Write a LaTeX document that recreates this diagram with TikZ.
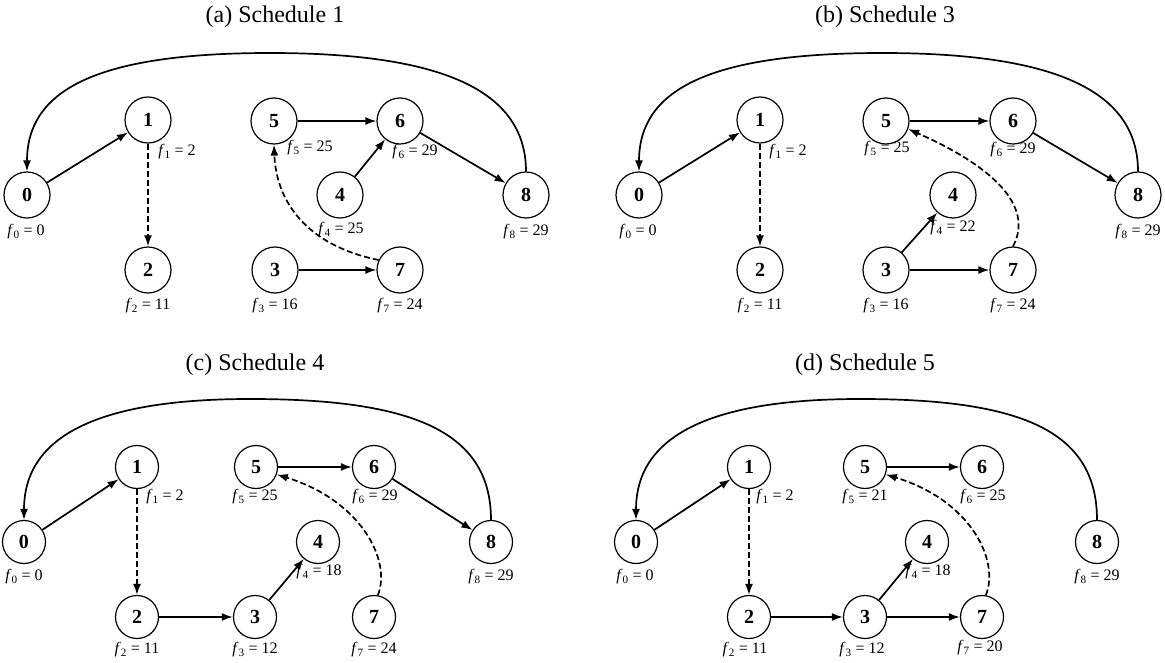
\documentclass[tikz,border=0pt]{standalone}
\usepackage{fontspec}
\setmainfont{Liberation Serif}
\usetikzlibrary{arrows.meta}
\newcommand{\flab}[2]{\textit{f}\textsubscript{#1} = #2}
\begin{document}
\begin{tikzpicture}[x=1pt,y=-1pt,
 vtx/.style={circle, draw, line width=1.2pt, minimum size=46pt, inner sep=0pt, font=\fontsize{20}{20}\selectfont\bfseries},
 vtxs/.style={vtx, minimum size=43pt},
 lbl/.style={inner sep=0pt, font=\fontsize{16}{17}\selectfont},
 ttl/.style={inner sep=0pt, font=\fontsize{24}{28}\selectfont},
 edge/.style={line width=1.7pt, -{Latex[length=11pt,width=8pt]}},
 dedge/.style={edge, dash pattern=on 6pt off 3pt},
 arc/.style={line width=1.7pt, -{Latex[length=11pt,width=8pt]}}]
\path[use as bounding box] (0,0) rectangle (1165,663);

% ---------- (a) ----------
\node[ttl] (ta) at (275,17) {(a) Schedule 1};
\node[vtx] (a0) at (27,195) {0};
\node[vtx] (a1) at (148,120) {1};
\node[vtx] (a2) at (148,270) {2};
\node[vtx] (a3) at (275,270) {3};
\node[vtx] (a4) at (340,195) {4};
\node[vtx] (a5) at (274,121) {5};
\node[vtx] (a6) at (400,121) {6};
\node[vtx] (a7) at (400,270) {7};
\node[vtx] (a8) at (526,195) {8};
\node[lbl] (la0) at (26,232) {\flab{0}{0}};
\node[lbl] (la1) at (177,152) {\flab{1}{2}};
\node[lbl] (la2) at (148,306) {\flab{2}{11}};
\node[lbl] (la3) at (275,306) {\flab{3}{16}};
\node[lbl] (la4) at (341,230) {\flab{4}{25}};
\node[lbl] (la5) at (310,148) {\flab{5}{25}};
\node[lbl] (la6) at (415,152) {\flab{6}{29}};
\node[lbl] (la7) at (400,306) {\flab{7}{24}};
\node[lbl] (la8) at (526,232) {\flab{8}{29}};
\draw[edge] (a0) -- (a1);
\draw[dedge] (a1) -- (a2);
\draw[edge] (a5) -- (a6);
\draw[edge] (a6) -- (a8);
\draw[edge] (a4) -- (a6);
\draw[edge] (a3) -- (a7);
\draw[dedge] (a7.155) .. controls (305,245) and (276,200) .. (a5.south);
\draw[arc] (a8.north) .. controls (526,85) and (430,53) .. (270,53) .. controls (92,53) and (27,92) .. (a0.north);

% ---------- (b) ----------
\node[ttl] (tb) at (885,17) {(b) Schedule 3};
\node[vtx] (b0) at (639,195) {0};
\node[vtx] (b1) at (760,120) {1};
\node[vtx] (b2) at (760,270) {2};
\node[vtx] (b3) at (886,270) {3};
\node[vtx] (b4) at (953,195) {4};
\node[vtx] (b5) at (886,121) {5};
\node[vtx] (b6) at (1013,121) {6};
\node[vtx] (b7) at (1013,270) {7};
\node[vtx] (b8) at (1138,195) {8};
\node[lbl] (lb0) at (638,232) {\flab{0}{0}};
\node[lbl] (lb1) at (788,152) {\flab{1}{2}};
\node[lbl] (lb2) at (760,306) {\flab{2}{11}};
\node[lbl] (lb3) at (886,306) {\flab{3}{16}};
\node[lbl] (lb4) at (953,228) {\flab{4}{22}};
\node[lbl] (lb5) at (887,149) {\flab{5}{25}};
\node[lbl] (lb6) at (1013,150) {\flab{6}{29}};
\node[lbl] (lb7) at (1013,306) {\flab{7}{24}};
\node[lbl] (lb8) at (1138,232) {\flab{8}{29}};
\draw[edge] (b0) -- (b1);
\draw[dedge] (b1) -- (b2);
\draw[edge] (b5) -- (b6);
\draw[edge] (b6) -- (b8);
\draw[edge] (b3) -- (b4);
\draw[edge] (b3) -- (b7);
\draw[dedge] (b7.north) .. controls (1035,205) and (990,165) .. (b5.-20);
\draw[arc] (b8.north) .. controls (1138,85) and (1042,53) .. (882,53) .. controls (704,53) and (639,92) .. (b0.north);

% ---------- (c) ----------
\node[ttl] (tc) at (255,365) {(c) Schedule 4};
\node[vtxs] (c0) at (24,542) {0};
\node[vtxs] (c1) at (137,467) {1};
\node[vtxs] (c2) at (137,617) {2};
\node[vtxs] (c3) at (255,617) {3};
\node[vtxs] (c4) at (318,542) {4};
\node[vtxs] (c5) at (256,467) {5};
\node[vtxs] (c6) at (374,467) {6};
\node[vtxs] (c7) at (374,617) {7};
\node[vtxs] (c8) at (491,542) {8};
\node[lbl] (lc0) at (24,577) {\flab{0}{0}};
\node[lbl] (lc1) at (165,497) {\flab{1}{2}};
\node[lbl] (lc2) at (137,650) {\flab{2}{11}};
\node[lbl] (lc3) at (255,650) {\flab{3}{12}};
\node[lbl] (lc4) at (319,572) {\flab{4}{18}};
\node[lbl] (lc5) at (255,497) {\flab{5}{25}};
\node[lbl] (lc6) at (375,497) {\flab{6}{29}};
\node[lbl] (lc7) at (374,650) {\flab{7}{24}};
\node[lbl] (lc8) at (491,577) {\flab{8}{29}};
\draw[edge] (c0) -- (c1);
\draw[dedge] (c1) -- (c2);
\draw[edge] (c2) -- (c3);
\draw[edge] (c3) -- (c4);
\draw[edge] (c5) -- (c6);
\draw[edge] (c6) -- (c8);
\draw[dedge] (c7.80) .. controls (392,560) and (360,500) .. (c5.-20);
\draw[arc] (c8.north) .. controls (491,430) and (410,399) .. (250,399) .. controls (90,399) and (24,440) .. (c0.north);

% ---------- (d) ----------
\node[ttl] (td) at (865,365) {(d) Schedule 5};
\node[vtxs] (d0) at (636,542) {0};
\node[vtxs] (d1) at (749,467) {1};
\node[vtxs] (d2) at (749,617) {2};
\node[vtxs] (d3) at (865,617) {3};
\node[vtxs] (d4) at (927,542) {4};
\node[vtxs] (d5) at (865,467) {5};
\node[vtxs] (d6) at (982,467) {6};
\node[vtxs] (d7) at (982,617) {7};
\node[vtxs] (d8) at (1097,542) {8};
\node[lbl] (ld0) at (635,577) {\flab{0}{0}};
\node[lbl] (ld1) at (775,497) {\flab{1}{2}};
\node[lbl] (ld2) at (745,650) {\flab{2}{11}};
\node[lbl] (ld3) at (862,650) {\flab{3}{12}};
\node[lbl] (ld4) at (928,572) {\flab{4}{18}};
\node[lbl] (ld5) at (865,497) {\flab{5}{21}};
\node[lbl] (ld6) at (983,497) {\flab{6}{25}};
\node[lbl] (ld7) at (980,648) {\flab{7}{20}};
\node[lbl] (ld8) at (1097,577) {\flab{8}{29}};
\draw[edge] (d0) -- (d1);
\draw[dedge] (d1) -- (d2);
\draw[edge] (d2) -- (d3);
\draw[edge] (d3) -- (d4);
\draw[edge] (d3) -- (d7);
\draw[edge] (d5) -- (d6);
\draw[dedge] (d7.80) .. controls (1000,560) and (970,500) .. (d5.-20);
\draw[arc] (d8.north) .. controls (1097,430) and (1020,399) .. (860,399) .. controls (702,399) and (636,440) .. (d0.north);
\end{tikzpicture}
\end{document}
